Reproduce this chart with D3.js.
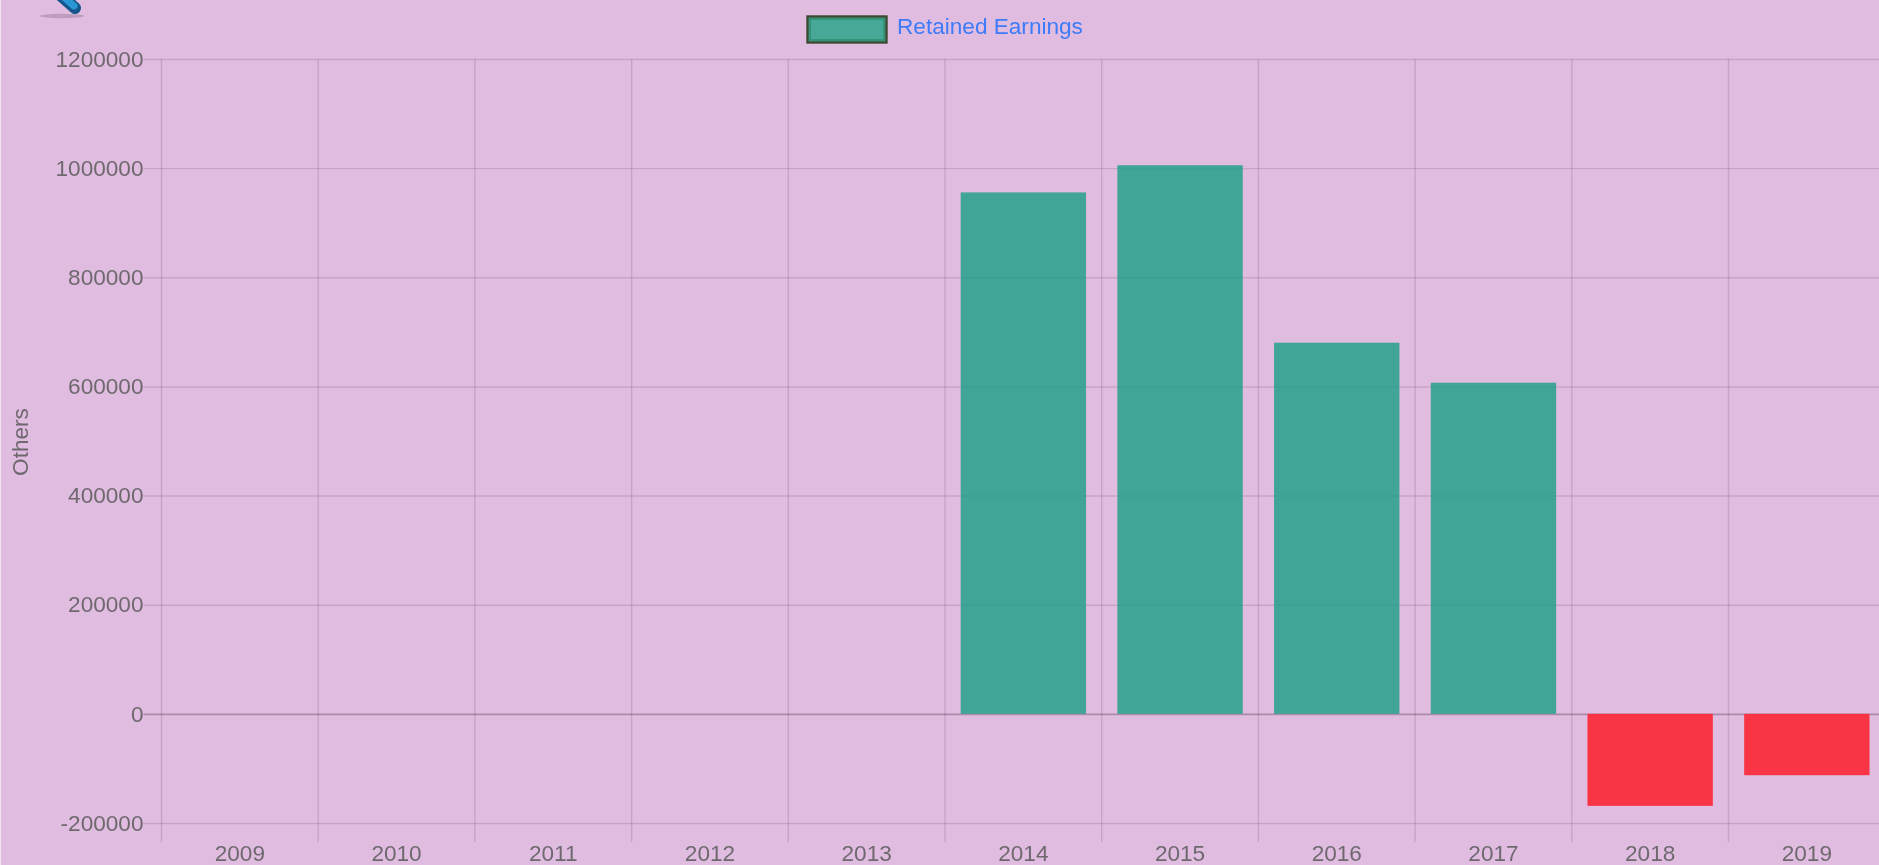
<!DOCTYPE html>
<html>
<head>
<meta charset="utf-8">
<title>Retained Earnings</title>
<script src="https://cdn.jsdelivr.net/npm/d3@7"></script>
<style>
    html, body { margin: 0; padding: 0; background: #f1e3f1; overflow: hidden; }
    #GraphDiv { position: absolute; left: 1px; top: 0; width: 1878px; height: 865px; background: #e0bde0; overflow: hidden; }
    svg { position: absolute; left: -1px; top: 0; filter: blur(0.7px); }
    text { font-family: "Liberation Sans", Arial, sans-serif; font-size: 22.6px; }
</style>
</head>
<body>
<div id="GraphDiv"></div>
<script>
// Chart values.
const years = ["2009", "2010", "2011", "2012", "2013", "2014", "2015", "2016", "2017", "2018", "2019"];
const retainedEarnings = [0, 0, 0, 0, 0, 955500, 1005300, 680100, 606800, -168600, -112400];
const yTicks = [-200000, 0, 200000, 400000, 600000, 800000, 1000000, 1200000];
const legendLabel = "Retained Earnings";
const yLabel = "Others";

// Global variables.
let width = 1879
let height = 865
let margins = {"left": 161.5, "right": -6.2, "top": 59, "bottom": 42};
let gridColour = "rgba(60, 30, 60, 0.15)"
let zeroColour = "rgba(60, 30, 60, 0.32)"
let labelColour = "#6f696f"
let labelFont = '"Liberation Sans", Arial, sans-serif'

// Main svg element.
let svg = d3.select("#GraphDiv")
    .append("svg")
    .attr("width", width)
    .attr("height", height);

// Define axes ranges.
let xRange = d3.scaleBand().domain(years).range([margins.left, width - margins.right]);
let yRange = d3.scaleLinear().domain([-200000, 1200000]).range([height - margins.bottom, margins.top]);

// Create axes. Tick marks run across the plot so they double as the grid.
let yAxis = d3.axisLeft(yRange)
    .tickValues(yTicks)
    .tickFormat(d => String(d))
    .tickSize(-(width - margins.right - margins.left))
    .tickPadding(0);
let xAxis = d3.axisBottom(xRange).tickSize(0).tickPadding(10);

// Horizontal grid and y labels.
let yGroup = svg.append("g").attr("class", "y axis").attr("transform", "translate(" + margins.left + ",0)").call(yAxis);
yGroup.select(".domain").remove();
yGroup.selectAll(".tick line")
    .attr("x1", -18)
    .attr("stroke", d => d === 0 ? zeroColour : gridColour)
    .attr("stroke-width", d => d === 0 ? 1.6 : 1.4);
yGroup.selectAll(".tick text")
    .attr("x", -18)
    .attr("fill", labelColour)
    .style("font-size", "22.6px")
    .style("font-family", labelFont);

// Vertical grid, at the edges of each year's band.
svg.append("g")
    .selectAll("line")
    .data(years)
    .enter()
    .append("line")
    .attr("x1", d => xRange(d))
    .attr("x2", d => xRange(d))
    .attr("y1", margins.top)
    .attr("y2", height - margins.bottom + 19)
    .attr("stroke", gridColour)
    .attr("stroke-width", 1.4);

// Year labels.
let xGroup = svg.append("g").attr("class", "x axis").attr("transform", "translate(0," + (height - margins.bottom + 19) + ")").call(xAxis);
xGroup.select(".domain").remove();
xGroup.selectAll(".tick text")
    .attr("y", 3)
    .attr("dy", "0.71em")
    .attr("fill", labelColour)
    .style("font-size", "22.6px")
    .style("font-family", labelFont);

// Bars, green above zero and red below.
let barWidth = xRange.bandwidth() * 0.8
svg.append("g")
    .selectAll("rect")
    .data(years.map((y, i) => ({year: y, value: retainedEarnings[i]})).filter(d => d.value !== 0))
    .enter()
    .append("rect")
    .attr("x", d => xRange(d.year) + (xRange.bandwidth() - barWidth) / 2)
    .attr("width", barWidth)
    .attr("y", d => yRange(Math.max(d.value, 0)))
    .attr("height", d => Math.abs(yRange(d.value) - yRange(0)))
    .attr("fill", d => d.value >= 0 ? "rgba(40, 160, 140, 0.87)" : "rgba(250, 45, 60, 0.95)");

// Legend: dark outer edge with a green inner edge.
svg.append("rect")
    .attr("x", 807.5)
    .attr("y", 16.5)
    .attr("width", 79)
    .attr("height", 26)
    .attr("fill", "#47a898")
    .attr("stroke", "#3c4a32")
    .attr("stroke-width", 2.4);
svg.append("rect")
    .attr("x", 810)
    .attr("y", 19)
    .attr("width", 74)
    .attr("height", 21)
    .attr("fill", "none")
    .attr("stroke", "#2f8f72")
    .attr("stroke-width", 1.6);
svg.append("text")
    .attr("x", 897)
    .attr("y", 33.5)
    .attr("fill", "#3d7bfb")
    .text(legendLabel);

// Y axis title.
svg.append("text")
    .attr("transform", "translate(28,442) rotate(-90)")
    .style("text-anchor", "middle")
    .attr("fill", labelColour)
    .text(yLabel);

// The little pencil icon cut off by the top edge.
svg.append("ellipse").attr("cx", 62).attr("cy", 16).attr("rx", 22).attr("ry", 2.2).attr("fill", "rgba(110, 80, 110, 0.3)");
svg.append("line")
    .attr("x1", 58).attr("y1", -7).attr("x2", 75).attr("y2", 8)
    .attr("stroke", "#14568c").attr("stroke-width", 12).attr("stroke-linecap", "round");
svg.append("line")
    .attr("x1", 58).attr("y1", -8).attr("x2", 74).attr("y2", 6)
    .attr("stroke", "#2a97d4").attr("stroke-width", 7).attr("stroke-linecap", "round");
</script>
</body>
</html>
